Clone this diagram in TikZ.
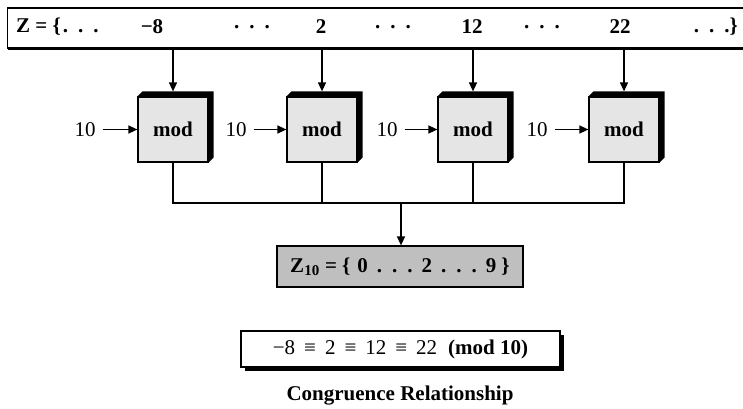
\documentclass[tikz,border=0pt]{standalone}
\usepackage{fontspec}
\setmainfont{Liberation Serif}
\usetikzlibrary{arrows.meta,shadows}
\newcommand{\ddd}{.\hspace{10pt}.\hspace{10pt}.}
\newcommand{\eqv}{\hspace{9pt}≡\hspace{9pt}}

\begin{document}
\begin{tikzpicture}[x=1pt,y=1pt,
    font=\fontsize{21}{25}\selectfont,
    modbox/.style={draw, line width=1.2pt, fill=black!10, minimum width=70pt, minimum height=65pt, inner sep=0pt, font=\fontsize{21}{25}\selectfont\bfseries},
    setnum/.style={inner sep=0pt, font=\fontsize{21}{25}\selectfont\bfseries},
    txt/.style={inner sep=0pt},
    wire/.style={line width=1.4pt},
    arr/.style={line width=1.4pt, -{Triangle[length=9pt,width=8pt]}}]

\useasboundingbox (0,0) rectangle (743,408);

% the set Z
\node[draw, line width=1.2pt, fill=white, drop shadow={shadow xshift=0pt, shadow yshift=-2pt, fill=black, opacity=1}, minimum width=750pt, minimum height=40pt, anchor=west] (Z) at (7,380) {};
\node[setnum, anchor=west] (zl) at (16,381) {Z = \{\hspace{2pt}\ddd};
\node[setnum] (n1) at (152,381) {−8};
\node[setnum] (d1) at (252,381) {\ddd};
\node[setnum] (n2) at (321,381) {2};
\node[setnum] (d2) at (393,381) {\ddd};
\node[setnum] (n3) at (472,381) {12};
\node[setnum] (d3) at (542,381) {\ddd};
\node[setnum] (n4) at (620,381) {22};
\node[setnum, anchor=east] (zr) at (738,381) {\ddd\}};

% mod boxes
\node[modbox] (m1) at (173,278.5) {mod};
\node[modbox] (m2) at (322,278.5) {mod};
\node[modbox] (m3) at (473,278.5) {mod};
\node[modbox] (m4) at (624,278.5) {mod};
\fill (m1.north west) -- ++(5,5) -| ([shift={(5,5)}]m1.south east) -- (m1.south east) -- (m1.north east) -- cycle;
\fill (m2.north west) -- ++(5,5) -| ([shift={(5,5)}]m2.south east) -- (m2.south east) -- (m2.north east) -- cycle;
\fill (m3.north west) -- ++(5,5) -| ([shift={(5,5)}]m3.south east) -- (m3.south east) -- (m3.north east) -- cycle;
\fill (m4.north west) -- ++(5,5) -| ([shift={(5,5)}]m4.south east) -- (m4.south east) -- (m4.north east) -- cycle;

% moduli
\node[txt] (t1) at (85,278.5) {10};
\node[txt] (t2) at (236,278.5) {10};
\node[txt] (t3) at (387,278.5) {10};
\node[txt] (t4) at (537,278.5) {10};
\draw[arr] ([xshift=7pt]t1.east) -- (m1);
\draw[arr] ([xshift=7pt]t2.east) -- (m2);
\draw[arr] ([xshift=7pt]t3.east) -- (m3);
\draw[arr] ([xshift=7pt]t4.east) -- (m4);

% inputs
\draw[arr] (Z.south -| m1) -- ([yshift=5pt]m1.north);
\draw[arr] (Z.south -| m2) -- ([yshift=5pt]m2.north);
\draw[arr] (Z.south -| m3) -- ([yshift=5pt]m3.north);
\draw[arr] (Z.south -| m4) -- ([yshift=5pt]m4.north);

% the set Z10
\node[draw, fill=black!25, line width=1.2pt, minimum width=246pt, minimum height=41pt, inner sep=0pt, font=\fontsize{21}{25}\selectfont\bfseries] (z10) at (400,141.5) {Z\textsubscript{\fontsize{15}{18}\selectfont 10} = \{\hspace{7pt}0\hspace{9pt}\ddd\hspace{9pt}2\hspace{9pt}\ddd\hspace{9pt}9\hspace{5pt}\}};

% outputs
\coordinate (bus) at (401,205);
\draw[wire] (m1.south) -- (m1.south |- bus) -- (m4.south |- bus) -- (m4.south);
\draw[wire] (m2.south) -- (m2.south |- bus);
\draw[wire] (m3.south) -- (m3.south |- bus);
\draw[arr] (bus) -- (z10.north -| bus);

% congruence
\node[draw, fill=white, line width=1.2pt, drop shadow={shadow xshift=4pt, shadow yshift=-4pt, fill=black, opacity=1}, minimum width=319pt, minimum height=36pt] (cong) at (400.5,59) {−8\eqv 2\eqv 12\eqv 22\hspace{11pt}\textbf{(mod 10)}};
\node[txt, font=\fontsize{21}{25}\selectfont\bfseries] (cap) at (400,12) {Congruence Relationship};
\end{tikzpicture}
\end{document}
